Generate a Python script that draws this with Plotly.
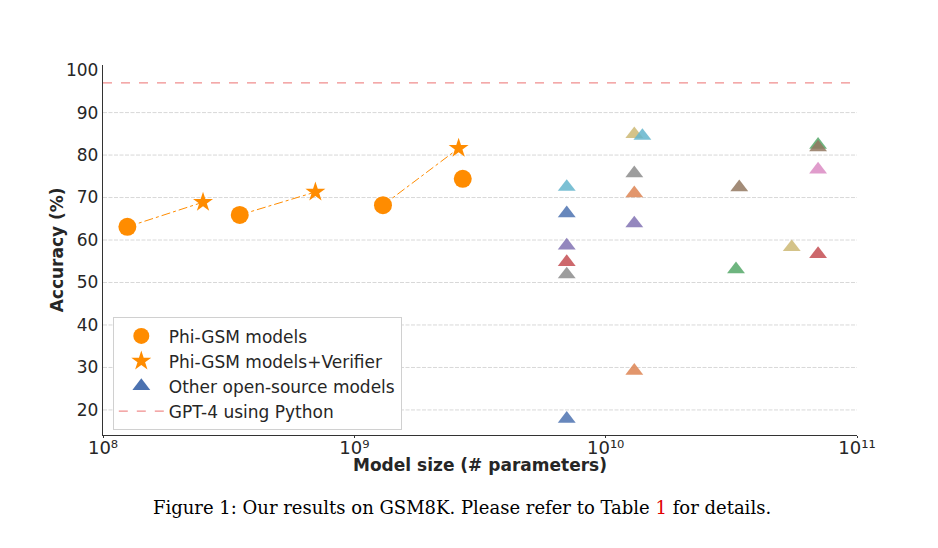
import plotly.graph_objects as go

# ---------------- data ----------------
PHI_X = [125e6, 350e6, 1.3e9, 2.7e9]
PHI_Y = [63.1, 65.9, 68.2, 74.4]

VER_X = [250e6, 700e6, 2.6e9]
VER_Y = [68.9, 71.3, 81.6]

OTHER_X = [7e9, 7e9, 7e9, 7e9, 7e9, 7e9,
           13e9, 14e9, 13e9, 13e9, 13e9, 13e9,
           34e9, 33e9, 55e9,
           70e9, 70e9, 70e9, 70e9]
OTHER_Y = [72.5, 66.3, 58.7, 54.8, 51.9, 17.9,
           84.9, 84.5, 75.7, 71.0, 63.9, 29.2,
           72.4, 53.1, 58.3,
           82.4, 81.8, 76.6, 56.7]
OTHER_C = ["cyan", "blue", "purple", "red", "gray", "blue",
           "olive", "cyan", "gray", "orange", "purple", "orange",
           "brown", "green", "olive",
           "green", "brown", "pink", "red"]

GPT4_Y = 97.0

Y_TICKS = [20, 30, 40, 50, 60, 70, 80, 90, 100]
GRID_Y = [20, 30, 40, 50, 60, 70, 80, 90]
X_TICKS = [1e8, 1e9, 1e10, 1e11]
X_TICKTEXT = ["10⁸", "10⁹", "10¹⁰", "10¹¹"]

PALETTE = {
    "blue": "#4C72B0", "orange": "#DD8452", "green": "#55A868", "red": "#C44E52",
    "purple": "#8172B3", "brown": "#937860", "pink": "#DA8BC3", "gray": "#8C8C8C",
    "olive": "#CCB974", "cyan": "#64B5CD",
}
PHI_COLOR = "#FF8C00"
TEXT = "#262626"
FONT = "DejaVu Sans"

fig = go.Figure()

# grid lines
for g in GRID_Y:
    fig.add_hline(y=g, line=dict(color="#d8d8d8", width=1, dash="4px,1.5px"), layer="below")

# connecting lines circle -> star
for i in range(len(VER_X)):
    fig.add_trace(go.Scatter(
        x=[PHI_X[i], VER_X[i]], y=[PHI_Y[i], VER_Y[i]], mode="lines",
        line=dict(color=PHI_COLOR, width=1, dash="dashdot"),
        showlegend=False, hoverinfo="skip"))

fig.add_trace(go.Scatter(
    x=PHI_X, y=PHI_Y, mode="markers", name="Phi-GSM models",
    marker=dict(symbol="circle", size=18, color=PHI_COLOR),
    legendgroup="a"))

fig.add_trace(go.Scatter(
    x=VER_X, y=VER_Y, mode="markers", name="Phi-GSM models+Verifier",
    marker=dict(symbol="star", size=15, color=PHI_COLOR),
    legendgroup="b"))

# other models, one trace each to keep drawing order
for xv, yv, c in zip(OTHER_X, OTHER_Y, OTHER_C):
    fig.add_trace(go.Scatter(
        x=[xv], y=[yv], mode="markers", showlegend=False,
        marker=dict(symbol="triangle-up", size=15.5, color=PALETTE[c], opacity=0.85)))

fig.add_trace(go.Scatter(
    x=[None], y=[None], mode="markers", name="Other open-source models",
    marker=dict(symbol="triangle-up", size=15.5, color=PALETTE["blue"]),
    legendgroup="c"))

fig.add_trace(go.Scatter(
    x=[1e8, 1e11], y=[GPT4_Y, GPT4_Y], mode="lines", name="GPT-4 using Python",
    line=dict(color="rgba(232,80,80,0.65)", width=1.3, dash="dash"),
    legendgroup="d"))

fig.update_layout(
    width=938, height=548,
    margin=dict(l=103, r=81, t=65, b=113),
    paper_bgcolor="white", plot_bgcolor="white",
    font=dict(family=FONT, size=17, color=TEXT),
    showlegend=True,
    legend=dict(
        x=0.013, y=0.318, xanchor="left", yanchor="top",
        bgcolor="white", bordercolor="#d0d0d0", borderwidth=1,
        font=dict(family=FONT, size=17, color=TEXT),
        tracegroupgap=0, itemwidth=45,
    ),
    xaxis=dict(
        type="log", range=[8, 11], tickvals=X_TICKS, ticktext=X_TICKTEXT,
        showgrid=False, zeroline=False,
        showline=True, linecolor="#333333", linewidth=1.3,
        ticks="outside", ticklen=2, tickcolor="#333333",
        ticklabelstandoff=-6,
        tickfont=dict(family=FONT, size=18, color=TEXT),
    ),
    yaxis=dict(
        range=[14.1, 101.2], tickvals=Y_TICKS,
        showgrid=False, zeroline=False,
        showline=True, linecolor="#333333", linewidth=1.3,
        ticks="", tickfont=dict(family=FONT, size=17, color=TEXT),
    ),
    annotations=[
        dict(text="<b>Model size (# parameters)</b>", xref="paper", yref="paper",
             x=0.5, y=-0.081, xanchor="center", yanchor="middle", showarrow=False,
             font=dict(family=FONT, size=17, color=TEXT)),
        dict(text="<b>Accuracy (%)</b>", xref="paper", yref="paper",
             x=-0.0606, y=0.5, xanchor="center", yanchor="middle", showarrow=False,
             textangle=-90, font=dict(family=FONT, size=17, color=TEXT)),
        dict(text='Figure 1: Our results on GSM8K. Please refer to Table <span style="color:#e00000">1</span> for details.',
             xref="paper", yref="paper", x=0.4755, y=-0.1946, xanchor="center", yanchor="middle",
             showarrow=False, font=dict(family="DejaVu Serif", size=18, color="black")),
    ],
)

fig.write_html("out.html")
